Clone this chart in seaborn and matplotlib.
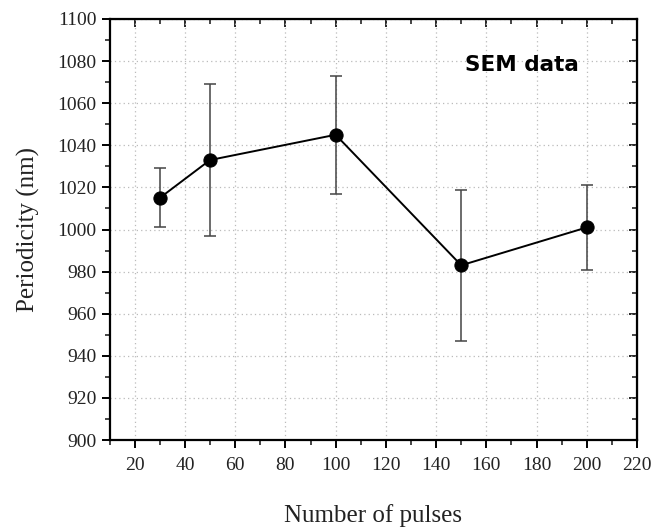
import matplotlib
matplotlib.use("Agg")
import matplotlib.pyplot as plt
import seaborn as sns
import pandas as pd
from matplotlib.ticker import MultipleLocator

# values
pulses = [30, 50, 100, 150, 200]
period = [1015, 1033, 1045, 983, 1001]
err = [14, 36, 28, 36, 20]

df = pd.DataFrame({"pulses": pulses, "period": period, "err": err})

sns.set_style("ticks")
plt.rcParams['font.family'] = ['Liberation Serif', 'DejaVu Serif']

fig = plt.figure(figsize=(6.57, 5.27), dpi=100)
ax = fig.add_axes([0.1667, 0.165, 0.803, 0.799])

ax.errorbar(df["pulses"], df["period"], yerr=df["err"], fmt='none',
            ecolor='#444444', elinewidth=1.1, capsize=4.5, capthick=1.1, zorder=2)
sns.lineplot(data=df, x="pulses", y="period", ax=ax, color='black',
             marker='o', markersize=9.5, markeredgecolor='black', linewidth=1.4, zorder=3)

ax.set_xlim(10, 220)
ax.set_ylim(900, 1100)
ax.xaxis.set_major_locator(MultipleLocator(20))
ax.xaxis.set_minor_locator(MultipleLocator(10))
ax.yaxis.set_major_locator(MultipleLocator(20))
ax.yaxis.set_minor_locator(MultipleLocator(10))
ax.grid(True, which='major', linestyle=(0, (1, 2.5)), color='#bbbbbb', linewidth=0.9)

for s in ax.spines.values():
    s.set_linewidth(1.6)
    s.set_color('black')

ax.tick_params(axis='both', which='major', direction='out', length=6, width=1.4,
               labelsize=14, colors='black', labelcolor='#222222')
ax.tick_params(axis='both', which='minor', direction='out', length=3.5, width=1.2)
ax.tick_params(axis='x', pad=6)

# mirrored ticks on top/right, pointing inward
axt = ax.secondary_xaxis('top')
axt.xaxis.set_major_locator(MultipleLocator(20))
axt.xaxis.set_minor_locator(MultipleLocator(10))
axt.tick_params(which='major', direction='in', length=6, width=1.4, labeltop=False)
axt.tick_params(which='minor', direction='in', length=3.5, width=1.2)
axr = ax.secondary_yaxis('right')
axr.yaxis.set_major_locator(MultipleLocator(20))
axr.yaxis.set_minor_locator(MultipleLocator(10))
axr.tick_params(which='major', direction='in', length=6, width=1.4, labelright=False)
axr.tick_params(which='minor', direction='in', length=3.5, width=1.2)

ax.set_xlabel("Number of pulses", fontsize=18, labelpad=22, color='#222222')
ax.set_ylabel("Periodicity (nm)", fontsize=18, labelpad=12, color='#222222')

ax.text(151.5, 1078, "SEM data", fontsize=15.5, fontweight='heavy',
        family=['DejaVu Sans'], va='center', ha='left', color='black')

fig.savefig("out.png", dpi=100)
